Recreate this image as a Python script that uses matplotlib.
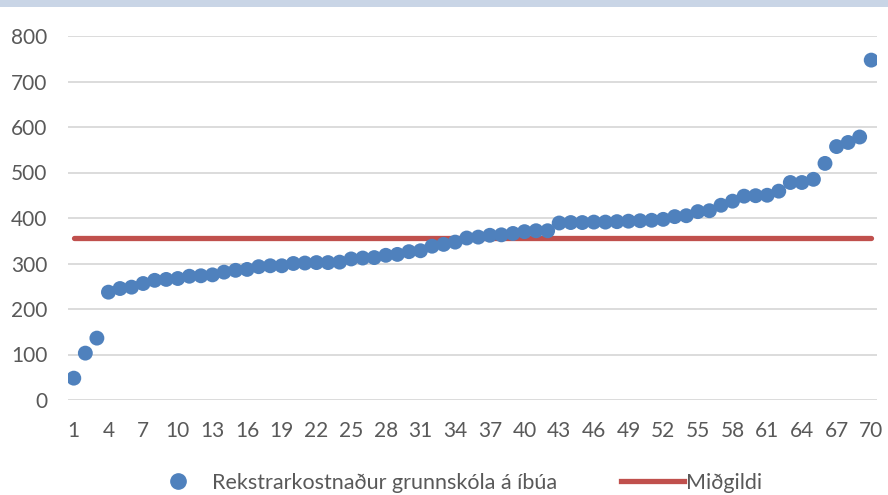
import matplotlib.pyplot as plt
from matplotlib.patches import Rectangle
from matplotlib.lines import Line2D

# Data
sveitarfelog = list(range(1, 71))
kostnadur = [48, 103, 136, 237, 245, 248, 256, 263, 265, 267,
             272, 273, 275, 281, 285, 287, 293, 295, 295, 300,
             301, 302, 302, 303, 310, 312, 313, 318, 320, 326,
             328, 338, 342, 347, 356, 358, 362, 363, 366, 370,
             372, 372, 389, 390, 390, 391, 391, 392, 393, 394,
             395, 397, 403, 405, 414, 416, 428, 437, 448, 449,
             450, 459, 478, 478, 485, 520, 557, 566, 578, 747]
midgildi = [357] * len(sveitarfelog)
tick_labels = [str(i) for i in range(1, 71, 3)]
y_ticks = [0, 100, 200, 300, 400, 500, 600, 700, 800]

plt.rcParams['font.family'] = ['Lato', 'DejaVu Sans']

fig = plt.figure(figsize=(8.88, 4.95), dpi=100)
ax = fig.add_axes([68 / 888, 1 - 400 / 495, (877 - 68) / 888, (400 - 36) / 495])

# thin band across the top
fig.patches.append(Rectangle((0, 1 - 7 / 495), 1, 7 / 495, transform=fig.transFigure,
                             facecolor='#c9d5e6', edgecolor='none'))

ax.plot(sveitarfelog, midgildi, color='#c0504d', lw=3.8, solid_capstyle='round', zorder=2)
ax.scatter(sveitarfelog, kostnadur, s=115, color='#4f81bd', edgecolors='none', zorder=3)

ax.set_xlim(0.5, 70.5)
ax.set_ylim(0, 800)
ax.set_yticks(y_ticks)
ax.set_xticks(range(1, 71, 3))
ax.set_xticklabels(tick_labels)
ax.grid(axis='y', color='#d9d9d9', lw=1.3)
ax.set_axisbelow(True)
for s in ax.spines.values():
    s.set_visible(False)
ax.tick_params(length=0, labelsize=15, colors='#595959')
ax.tick_params(axis='y', pad=15)
ax.tick_params(axis='x', pad=15)

handles = [Line2D([], [], marker='o', ls='none', color='#4f81bd', markersize=11),
           Line2D([], [], color='#c0504d', lw=3.8)]
fig.legend(handles, ['Rekstrarkostnaður grunnskóla á íbúa', 'Miðgildi'],
           loc='center', bbox_to_anchor=(0.512, 1 - 483 / 495), ncol=2, frameon=False,
           fontsize=15.5, labelcolor='#595959', handlelength=2.9, handletextpad=0.1,
           columnspacing=3.0)

fig.savefig('out.png', dpi=100)
